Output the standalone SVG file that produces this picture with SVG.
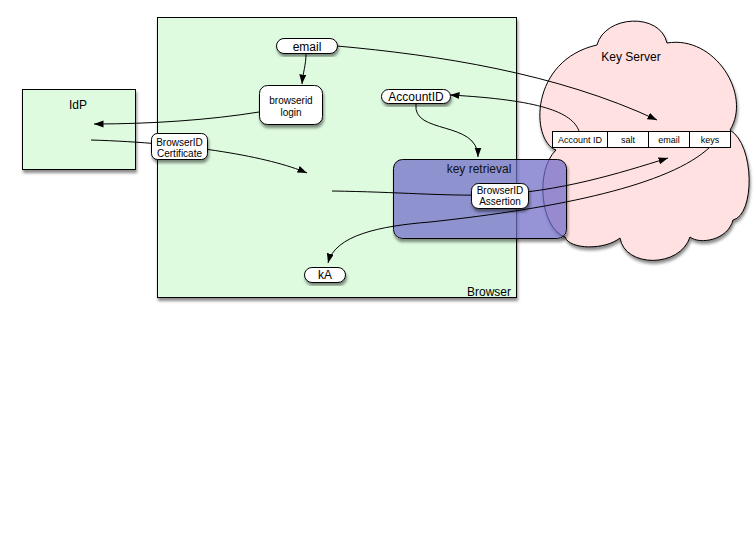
<svg xmlns="http://www.w3.org/2000/svg" width="756" height="553" viewBox="0 0 756 553">
<defs>
<style>
text{font-family:"Liberation Sans",Arial,sans-serif;fill:#000}
.box{fill:#defbe0;stroke:#000;stroke-width:1}
.pill{fill:#fff;stroke:#000;stroke-width:1}
.cell{fill:#fff;stroke:#000;stroke-width:1}
.c{fill:none;stroke:#000;stroke-width:1}
.t12{font-size:12px}
.t10{font-size:10px}
.t9{font-size:9px}
.mid{text-anchor:middle}
</style>
<filter id="sh" x="-10%" y="-10%" width="130%" height="130%">
<feDropShadow dx="1" dy="3" stdDeviation="1.8" flood-color="#000" flood-opacity="0.45"/>
</filter>
<filter id="sh2" x="-10%" y="-10%" width="130%" height="130%">
<feColorMatrix in="SourceAlpha" type="matrix" values="0 0 0 0 0  0 0 0 0 0  0 0 0 0 0  0 0 0 100 0" result="a"/>
<feGaussianBlur in="a" stdDeviation="1.8"/>
<feOffset dx="1" dy="3" result="b"/>
<feComponentTransfer in="b" result="c"><feFuncA type="linear" slope="0.45"/></feComponentTransfer>
<feComposite in="c" in2="a" operator="out" result="s"/>
<feMerge><feMergeNode in="s"/><feMergeNode in="SourceGraphic"/></feMerge>
</filter>
<marker id="arr" markerUnits="userSpaceOnUse" markerWidth="10" markerHeight="8" refX="9.5" refY="3.5" orient="auto">
<path d="M0,0 L9.5,3.5 L0,7 z" fill="#000"/>
</marker>
</defs>
<rect width="756" height="553" fill="#fff"/>

<g id="browser">
<rect class="box" x="157.5" y="17.5" width="359" height="280" filter="url(#sh)"/>
<text class="t12" x="511" y="296" text-anchor="end">Browser</text>
</g>

<g id="idp">
<rect class="box" x="22.5" y="89.5" width="113" height="80" filter="url(#sh)"/>
<text class="t12 mid" x="78" y="109">IdP</text>
</g>

<g id="keyserver">
<path d="M597,45 C605,15 660,12 667,43 C715,35 752,95 730,130 C755,145 755,215 733,220 C728,240 700,245 690,237 C680,268 625,268 620,238 C605,250 570,250 565,237 C540,228 535,170 556,150 C530,140 530,60 597,45 Z" fill="#ffe1e2" stroke="#000" stroke-width="1" filter="url(#sh)"/>
<text class="t12 mid" x="631" y="61">Key Server</text>
</g>

<g id="keyretrieval">
<rect x="393.5" y="159.5" width="173" height="79" rx="9" fill="rgb(111,107,200)" fill-opacity="0.73" stroke="#000" stroke-width="1" filter="url(#sh2)"/>
<text class="t12 mid" x="479" y="173" style="fill:#111">key retrieval</text>
</g>

<g id="table">
<rect class="cell" x="552.5" y="131.5" width="55" height="16"/>
<rect class="cell" x="607.5" y="131.5" width="41" height="16"/>
<rect class="cell" x="648.5" y="131.5" width="41" height="16"/>
<rect class="cell" x="689.5" y="131.5" width="41" height="16"/>
<text class="t9 mid" x="580" y="143">Account ID</text>
<text class="t9 mid" x="628" y="143">salt</text>
<text class="t9 mid" x="669" y="143">email</text>
<text class="t9 mid" x="710" y="143">keys</text>
</g>

<g id="connectors">
<path class="c" d="M337,46 C437,55 557,73 657,120" marker-end="url(#arr)"/>
<path class="c" d="M306,54 C306,65 303,72 302,84" marker-end="url(#arr)"/>
<path class="c" d="M259,112 C210,120 150,124 94,124" marker-end="url(#arr)"/>
<path class="c" d="M91,140 C190,143 270,157 307,173" marker-end="url(#arr)"/>
<path class="c" d="M332,191 C400,192 440,196 490,195 C560,192 620,173 668,158" marker-end="url(#arr)"/>
<path class="c" d="M710,147 C670,185 560,208 430,222 C380,226 335,235 328,263" marker-end="url(#arr)"/>
<path class="c" d="M579,131 C572,112 540,100 450,95" marker-end="url(#arr)"/>
<path class="c" d="M416,104 C412,135 478,120 478,157" marker-end="url(#arr)"/>
</g>

<g id="email">
<rect class="pill" x="276.5" y="38.5" width="61" height="15" rx="7.5" filter="url(#sh)"/>
<text class="t12 mid" x="307" y="51">email</text>
</g>

<g id="browserid-login">
<rect class="pill" x="259.5" y="85.5" width="63" height="39" rx="8" filter="url(#sh)"/>
<text class="t10 mid" x="291" y="104">browserid</text>
<text class="t10 mid" x="291" y="116">login</text>
</g>

<g id="browserid-certificate">
<rect class="pill" x="151.5" y="133.5" width="56" height="26" rx="6" filter="url(#sh)"/>
<text class="t10 mid" x="179.5" y="145.5">BrowserID</text>
<text class="t10 mid" x="179.5" y="156.5">Certificate</text>
</g>

<g id="accountid">
<rect class="pill" x="381.5" y="89.5" width="69" height="14" rx="7" filter="url(#sh)"/>
<text class="t12 mid" x="416" y="100.5">AccountID</text>
</g>

<g id="browserid-assertion">
<rect class="pill" x="471.5" y="183.5" width="57" height="25" rx="7" filter="url(#sh)"/>
<text class="t10 mid" x="500" y="194">BrowserID</text>
<text class="t10 mid" x="500" y="205">Assertion</text>
</g>

<g id="ka">
<rect class="pill" x="304.5" y="267.5" width="41" height="15" rx="7.5" filter="url(#sh)"/>
<text class="t12 mid" x="325" y="279">kA</text>
</g>
</svg>
